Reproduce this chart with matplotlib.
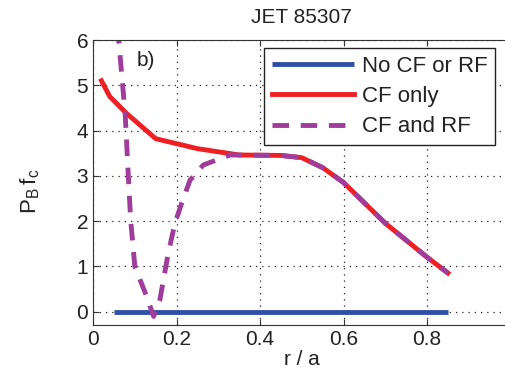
import numpy as np
import matplotlib.pyplot as plt

plt.rcParams['font.family'] = ['Liberation Sans', 'DejaVu Sans']

# --- data ---
r_blue = [0.05, 0.85]
pb_blue = [0.0, 0.0]

r_red = [0.02, 0.04, 0.08, 0.15, 0.25, 0.35, 0.45, 0.50, 0.55, 0.60, 0.70, 0.80, 0.85]
pb_red = [5.1, 4.75, 4.38, 3.82, 3.60, 3.46, 3.45, 3.40, 3.18, 2.85, 1.95, 1.20, 0.85]

r_purple = [0.05, 0.077, 0.084, 0.090, 0.100, 0.125, 0.145, 0.16, 0.18, 0.196, 0.212, 0.232,
            0.264, 0.328, 0.45, 0.50, 0.55, 0.60, 0.70, 0.80, 0.85]
pb_purple = [7.2, 4.34, 3.06, 2.02, 0.99, 0.41, -0.11, 0.26, 1.29, 1.95, 2.39, 2.9,
             3.24, 3.46, 3.45, 3.40, 3.18, 2.85, 1.95, 1.20, 0.85]

xticks = [0, 0.2, 0.4, 0.6, 0.8, 1.0]
xtick_labels = ['0', '0.2', '0.4', '0.6', '0.8', '1']
yticks = [0, 1, 2, 3, 4, 5, 6]

# --- plot ---
fig = plt.figure(figsize=(5.06, 3.78), dpi=100)
ax = fig.add_axes([0.184, 0.140, 0.825, 0.754])

ax.plot(r_blue, pb_blue, color='#3050a8', lw=3.5, solid_capstyle='butt', label='No CF or RF')
ax.plot(r_red, pb_red, color='#ee2024', lw=3.5, label='CF only')
ax.plot(r_purple, pb_purple, color='#a03c9c', lw=3.5, ls=(0, (3.4, 2.4)), label='CF and RF')

ax.set_xlim(0, 1)
ax.set_ylim(-0.3, 6)
ax.set_xticks(xticks)
ax.set_xticklabels(xtick_labels)
ax.set_yticks(yticks)
ax.tick_params(direction='in', top=True, right=True, labelsize=15, length=4,
               colors='#333333', labelcolor='#222222')
for sp in ax.spines.values():
    sp.set_color('#333333')
ax.grid(True, linestyle=(0, (1, 4)), color='#222222', lw=0.9)

ax.text(0.105, 5.55, 'b)', fontsize=15, va='center', color='#222222')
ax.set_title('JET 85307', fontsize=15, color='#222222', pad=12)
ax.set_xlabel('r / a', fontsize=15, color='#222222', labelpad=1)
ax.set_ylabel(r'$\mathregular{P_B\,f_c}$', fontsize=16, color='#222222')
ax.yaxis.set_label_coords(-0.122, 0.47)

leg = ax.legend(loc='upper right', bbox_to_anchor=(0.963, 0.972), borderaxespad=0,
                fontsize=16, handlelength=3.7, handletextpad=0.35, labelspacing=0.42,
                fancybox=False, framealpha=1, edgecolor='#222222', borderpad=0.35)
leg.get_frame().set_linewidth(1.0)
for t in leg.get_texts():
    t.set_color('#222222')

plt.savefig('out.png', dpi=100)
